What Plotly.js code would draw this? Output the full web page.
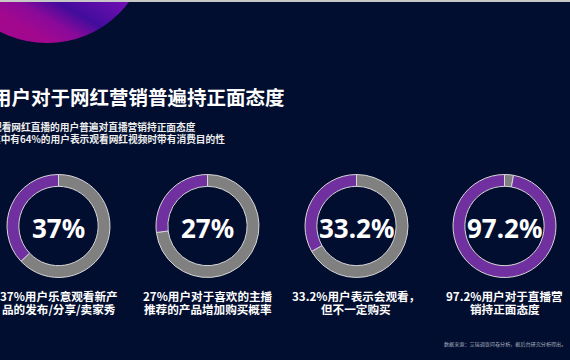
<!DOCTYPE html>
<html><head><meta charset="utf-8">
<script src="https://cdn.plot.ly/plotly-3.0.1.min.js"></script>
<style>
html,body{margin:0;padding:0;background:#020e2f;overflow:hidden;}
#wrap{position:relative;width:570px;height:360px;overflow:hidden;background:#020e2f;}
#orb{position:absolute;left:-54.6px;top:-160.2px;width:203.2px;height:203.2px;border-radius:50%;
 background:linear-gradient(210deg,#6e10b4 0%,#7010b2 55%,#420c9c 67%,#8a0a9a 74%,#a2088e 81%);}
#topline{position:absolute;left:0;top:0;width:570px;height:1.5px;background:#c8c8c8;}
#chart{position:absolute;left:0;top:0;width:570px;height:360px;}
</style>
</head><body><div id="wrap"><div id="orb"></div><div id="topline"></div><div id="chart"></div></div>
<script>
const title = "用户对于网红营销普遍持正面态度";
const subtitleLines = ["观看网红直播的用户普遍对直播营销持正面态度", "其中有64%的用户表示观看网红视频时带有消费目的性"];
const percents = [37, 27, 33.2, 97.2];
const centerLabels = ["37%", "27%", "33.2%", "97.2%"];
const captionLine1 = ["37%用户乐意观看新产", "27%用户对于喜欢的主播", "33.2%用户表示会观看，", "97.2%用户对于直播营"];
const captionLine2 = ["品的发布/分享/卖家秀", "推荐的产品增加购买概率", "但不一定购买", "销持正面态度"];
const source = "数据来源：艾瑞调查问卷分析，据后台研究分析得出。";

const W = 570, H = 360;
const centersX = [58.5, 207.5, 356.5, 504.5];
const centerY = 226, R = 51.5;
const px = x => x / W, py = y => 1 - y / H;
const cjk = '"Noto Sans CJK SC", "Noto Sans", sans-serif';
const num = '"Noto Sans", "Noto Sans CJK SC", sans-serif';

// remainder first, then the share, drawn clockwise from 12 o'clock -> share ends at 12 on the left side
const traces = percents.map((p, i) => ({
  type: 'pie',
  values: [100 - p, p],
  sort: false,
  direction: 'clockwise',
  rotation: 0,
  hole: 0.77,
  textinfo: 'none',
  hoverinfo: 'skip',
  showlegend: false,
  marker: {colors: ['#808080', '#7030a0'], line: {color: '#d6d6d6', width: 1}},
  domain: {x: [px(centersX[i] - R), px(centersX[i] + R)], y: [py(centerY + R), py(centerY - R)]}
}));

const annotations = [];
annotations.push({text: title, x: px(-10), y: py(97), xref: 'paper', yref: 'paper', xanchor: 'left', yanchor: 'middle', showarrow: false,
  font: {family: cjk, size: 19.5, color: '#ffffff', weight: 'bold'}});
subtitleLines.forEach((t, i) => annotations.push({text: t, x: px(-9.7 - i * 1.3), y: py(127 + i * 12.5), xref: 'paper', yref: 'paper', xanchor: 'left', yanchor: 'middle', showarrow: false,
  font: {family: cjk, size: 9.7, color: '#eeeeee', weight: 'bold'}}));
centerLabels.forEach((t, i) => annotations.push({text: t, x: px(centersX[i]), y: py(centerY + 2), xref: 'paper', yref: 'paper', xanchor: 'center', yanchor: 'middle', showarrow: false,
  font: {family: num, size: 26, color: '#ffffff', weight: 'bold'}}));
captionLine1.forEach((t, i) => annotations.push({text: t, x: px(centersX[i]), y: py(296), xref: 'paper', yref: 'paper', xanchor: 'center', yanchor: 'middle', showarrow: false,
  font: {family: cjk, size: 11.6, color: '#ffffff', weight: 'bold'}}));
captionLine2.forEach((t, i) => annotations.push({text: t, x: px(centersX[i]), y: py(308.5), xref: 'paper', yref: 'paper', xanchor: 'center', yanchor: 'middle', showarrow: false,
  font: {family: cjk, size: 11.6, color: '#ffffff', weight: 'bold'}}));
annotations.push({text: source, x: px(568), y: py(344), xref: 'paper', yref: 'paper', xanchor: 'right', yanchor: 'middle', showarrow: false,
  font: {family: cjk, size: 5.1, color: '#a8afbf'}});

const layout = {
  width: W, height: H,
  margin: {l: 0, r: 0, t: 0, b: 0},
  paper_bgcolor: 'rgba(0,0,0,0)', plot_bgcolor: 'rgba(0,0,0,0)',
  annotations: annotations
};
Plotly.newPlot('chart', traces, layout, {displayModeBar: false, staticPlot: true});
</script></body></html>
